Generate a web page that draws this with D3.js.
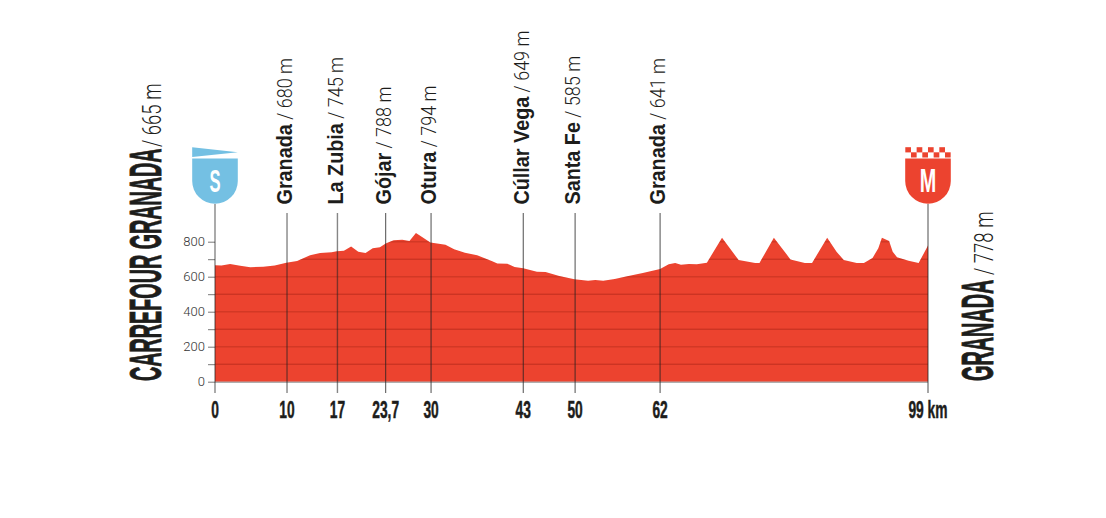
<!DOCTYPE html>
<html>
<head>
<meta charset="utf-8">
<script src="https://cdnjs.cloudflare.com/ajax/libs/d3/7.8.5/d3.min.js"></script>
<style>
  html, body { margin: 0; padding: 0; background: #fff; }
  svg { display: block; }
</style>
</head>
<body>
<svg id="chart" width="1106" height="518"></svg>
<script>
// profile: km, metres
const profileKm = [0, 0.9, 2.1, 3.5, 4.9, 6.7, 8.3, 9.9, 11.4, 13.2, 14.6, 16.2, 16.9, 17.9, 18.9, 19.9, 20.9, 21.9, 22.9, 23.7, 24.8, 26, 27, 27.9, 28.7, 29.9, 32, 33.2, 34.7, 36.4, 38.5, 39.2, 40.6, 41.6, 42.8, 44.7, 45.9, 47.8, 49.9, 51.8, 52.8, 53.9, 55.5, 57.4, 59.4, 61.8, 63, 63.9, 64.7, 65.8, 66.9, 68.3, 70.4, 72, 72.7, 75, 75.6, 77.6, 79.2, 79.9, 81.9, 82.9, 85, 86.3, 87.3, 89.1, 90.1, 91.3, 92.1, 92.6, 93.6, 94.1, 94.7, 96.3, 97.7, 99]
const profileElev = [666, 664, 672, 663, 654, 657, 664, 680, 690, 722, 735, 740, 745, 748, 773, 743, 735, 762, 768, 790, 808, 811, 804, 850, 829, 796, 783, 757, 737, 722, 688, 676, 674, 655, 648, 629, 627, 604, 585, 577, 581, 577, 587, 604, 621, 644, 671, 678, 669, 673, 671, 680, 823, 734, 695, 678, 678, 823, 737, 699, 678, 678, 823, 743, 695, 678, 678, 707, 762, 823, 804, 743, 711, 691, 678, 778]

const elevTicks = [0, 100, 200, 300, 400, 500, 600, 700, 800]
const elevLabels = [0, 200, 400, 600, 800]
const stageKm = [0, 10, 17, 23.7, 30, 42.8, 50, 61.8, 99]
const stageKmLabels = ['0', '10', '17', '23,7', '30', '43', '50', '62', '99 km']
const townKm = [10, 17, 23.7, 30, 42.8, 50, 61.8]
const townNames = ['Granada', 'La Zubia', 'Gójar', 'Otura', 'Cúllar Vega', 'Santa Fe', 'Granada']
const townElev = [680, 745, 788, 794, 649, 585, 641]

const RED = '#ec432f'
const BLUE = '#74c0e3'
const INK = '#1d1d1b'
const LIGHT = '"Roboto", "Liberation Sans", sans-serif'
const HEAVY = '"Liberation Sans", sans-serif'

const svg = d3.select('#chart')

const x = d3.scaleLinear().domain([0, 99]).range([215, 928])
const y = d3.scaleLinear().domain([0, 800]).range([381.7, 241.7])

const area = d3.area()
  .x((d, i) => x(profileKm[i]))
  .y0(y(0))
  .y1(d => y(d))

svg.append('clipPath')
  .attr('id', 'profile-clip')
  .append('path')
  .attr('d', area(profileElev))

svg.append('path')
  .attr('class', 'profile')
  .attr('fill', RED)
  .attr('d', area(profileElev))

// grid only shows inside the profile, even hundreds are wider and paler
svg.append('g')
  .attr('clip-path', 'url(#profile-clip)')
  .selectAll('line')
  .data(elevTicks.filter(d => d > 0))
  .enter().append('line')
  .attr('x1', x(0))
  .attr('x2', x(99))
  .attr('y1', d => y(d))
  .attr('y2', d => y(d))
  .attr('stroke', '#7a1206')
  .attr('stroke-width', d => d % 200 === 0 ? 1.6 : 0.8)
  .attr('stroke-opacity', d => d % 200 === 0 ? 0.22 : 0.5)

// y axis
const yAxis = svg.append('g')
  .attr('transform', `translate(${x(0)},0)`)
  .call(d3.axisLeft(y).tickValues(elevTicks).tickSize(7).tickPadding(3)
    .tickFormat(d => elevLabels.includes(d) ? d : ''))
yAxis.select('.domain').remove()
yAxis.selectAll('line').attr('stroke', '#555').attr('stroke-width', 0.8)
yAxis.selectAll('text')
  .attr('font-family', LIGHT)
  .attr('font-weight', 300)
  .attr('font-size', 13)
  .attr('fill', '#333')

// baseline
svg.append('line')
  .attr('x1', x(0))
  .attr('x2', x(99))
  .attr('y1', y(0) + 0.5)
  .attr('y2', y(0) + 0.5)
  .attr('stroke', '#8a8a8a')
  .attr('stroke-width', 1)

// vertical km lines
svg.append('g')
  .selectAll('line')
  .data(stageKm)
  .enter().append('line')
  .attr('x1', d => x(d))
  .attr('x2', d => x(d))
  .attr('y1', d => d === 0 || d === 99 ? 204 : 213)
  .attr('y2', 393)
  .attr('stroke', '#222')
  .attr('stroke-width', d => d <= 17 ? 1.4 : 1)
  .attr('stroke-opacity', d => d <= 17 ? 0.55 : 0.8)

// condensed lettering: squeeze a heavy face horizontally
function squeezed (parent, str, opts) {
  const rot = opts.rotate ? ' rotate(-90)' : ''
  return parent.append('text')
    .attr('transform', `translate(${opts.x},${opts.y})${rot} scale(${opts.sx},1)`)
    .attr('text-anchor', opts.anchor || 'start')
    .attr('font-family', opts.family || HEAVY)
    .attr('font-weight', opts.weight || 700)
    .attr('font-size', opts.size)
    .attr('fill', opts.fill || INK)
    .attr('stroke', opts.stroke || 'none')
    .attr('stroke-width', opts.strokeWidth || 0.5)
    .text(str)
}

// km labels
stageKm.forEach((km, i) => {
  squeezed(svg, stageKmLabels[i], {
    x: x(km), y: 418, sx: 0.6, size: 23, anchor: 'middle', stroke: INK
  })
})

// town labels
townKm.forEach((km, i) => {
  const t = svg.append('text')
    .attr('transform', `translate(${x(km) + 5.3},204.5) rotate(-90) scale(0.9,1)`)
    .attr('fill', INK)
    .attr('font-size', 22)
  t.append('tspan')
    .attr('font-family', HEAVY)
    .attr('font-weight', 700)
    .text(townNames[i])
  t.append('tspan')
    .attr('font-family', LIGHT)
    .attr('font-weight', 300)
    .attr('font-size', 20)
    .text(` / ${townElev[i]} m`)
})

// start and finish names
const bigNames = [
  { name: 'CARREFOUR GRANADA', elev: 665, px: 161, sx: 0.449, gap: 234 },
  { name: 'GRANADA', elev: 778, px: 993, sx: 0.451, gap: 106 }
]
bigNames.forEach(d => {
  squeezed(svg, d.name, { x: d.px, y: 381, sx: d.sx, size: 44, rotate: true, stroke: INK, strokeWidth: 0.9 })
  squeezed(svg, `/ ${d.elev} m`, {
    x: d.px, y: 381 - d.gap, sx: 0.74, size: 25, rotate: true, family: LIGHT, weight: 300
  })
})

// shield outline, drawn around the top of the start / finish line
function shield (km, colour) {
  const w = 22.8
  const g = svg.append('g').attr('transform', `translate(${x(km)},181)`)
  g.append('path')
    .attr('fill', colour)
    .attr('d', `M${-w},-22.5 H${w} V0 A${w},${w} 0 0 1 ${-w},0 Z`)
  return g
}

const startFlag = shield(0, BLUE)
startFlag.append('path')
  .attr('fill', BLUE)
  .attr('d', 'M-22.8,-33.7 L22.8,-28.7 L-22.8,-24 Z')
squeezed(startFlag, 'S', { x: 0, y: 10.8, sx: 0.52, size: 32, anchor: 'middle', fill: '#fff' })

const finishFlag = shield(99, RED)
const checker = d3.range(8)
finishFlag.selectAll('rect')
  .data(checker)
  .enter().append('rect')
  .attr('x', d => -22.7 + d * 5.67)
  .attr('y', d => d % 2 === 0 ? -33.8 : -28.7)
  .attr('width', 5.67)
  .attr('height', 5.2)
  .attr('fill', RED)
squeezed(finishFlag, 'M', { x: 0, y: 11, sx: 0.6, size: 33, anchor: 'middle', fill: '#fff' })
</script>
</body>
</html>
